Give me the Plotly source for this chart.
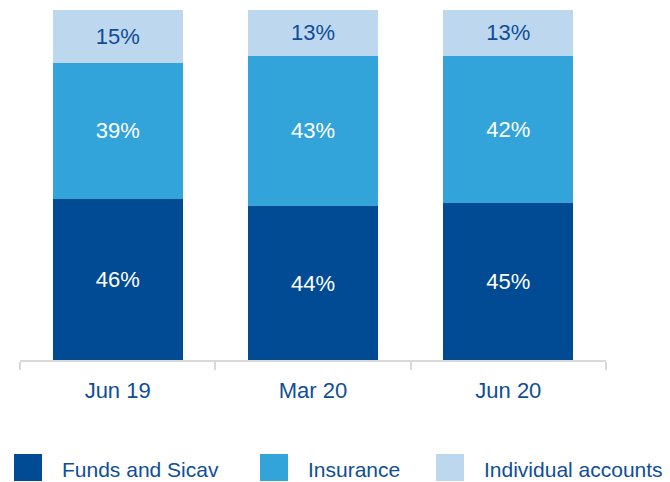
import plotly.graph_objects as go

categories = ["Jun 19", "Mar 20", "Jun 20"]
funds_sicav = [46, 44, 45]
insurance = [39, 43, 42]
individual = [15, 13, 13]
series_names = ["Funds and Sicav", "Insurance", "Individual accounts"]

DARK = "#004B93"
MID = "#32A4DA"
LIGHT = "#BDD7EE"
TXT = "#0F4E97"
FONT = "Liberation Sans, Arial, sans-serif"

W, H = 670, 482
ML, MR, MT, MB = 20, 64, 10, 122

fig = go.Figure()
for name, vals, col, tcol in [
    (series_names[0], funds_sicav, DARK, "white"),
    (series_names[1], insurance, MID, "white"),
    (series_names[2], individual, LIGHT, TXT),
]:
    fig.add_trace(go.Bar(
        x=categories, y=vals, name=name,
        marker=dict(color=col, line=dict(width=0)),
        text=[f"{v}%" for v in vals],
        textposition="inside", insidetextanchor="middle",
        textfont=dict(family=FONT, size=22, color=tcol),
        textangle=0,
        showlegend=False,
        hoverinfo="skip",
    ))

def px_x(p):
    return (p - ML) / (W - ML - MR)

def px_y(p):
    return (H - MB - p) / (H - MT - MB)

legend_items = [
    (series_names[0], DARK, 14),
    (series_names[1], MID, 260),
    (series_names[2], LIGHT, 436),
]
for name, col, x0 in legend_items:
    fig.add_shape(type="rect", xref="paper", yref="paper",
                  x0=px_x(x0), x1=px_x(x0 + 28), y0=px_y(481), y1=px_y(454),
                  fillcolor=col, line=dict(width=0))
    fig.add_annotation(xref="paper", yref="paper", x=px_x(x0 + 46), y=px_y(469),
                       text=name, showarrow=False, xanchor="left", yanchor="middle",
                       font=dict(family=FONT, size=21, color=TXT))

fig.update_layout(
    width=W, height=H,
    margin=dict(l=ML, r=MR, t=MT, b=MB),
    barmode="stack", bargap=0.335,
    plot_bgcolor="white", paper_bgcolor="white",
    xaxis=dict(
        type="category", showgrid=False, showline=True, linecolor="#D9D9D9", linewidth=2,
        ticks="outside", tickson="boundaries", ticklen=8, tickcolor="#D9D9D9", tickwidth=2,
        tickfont=dict(family=FONT, size=22, color=TXT), ticklabelstandoff=10,
        fixedrange=True,
    ),
    yaxis=dict(range=[0, 100], visible=False, fixedrange=True),
)

fig.write_html("out.html", config={"displayModeBar": False},
               post_script="document.body.style.margin='0';")
